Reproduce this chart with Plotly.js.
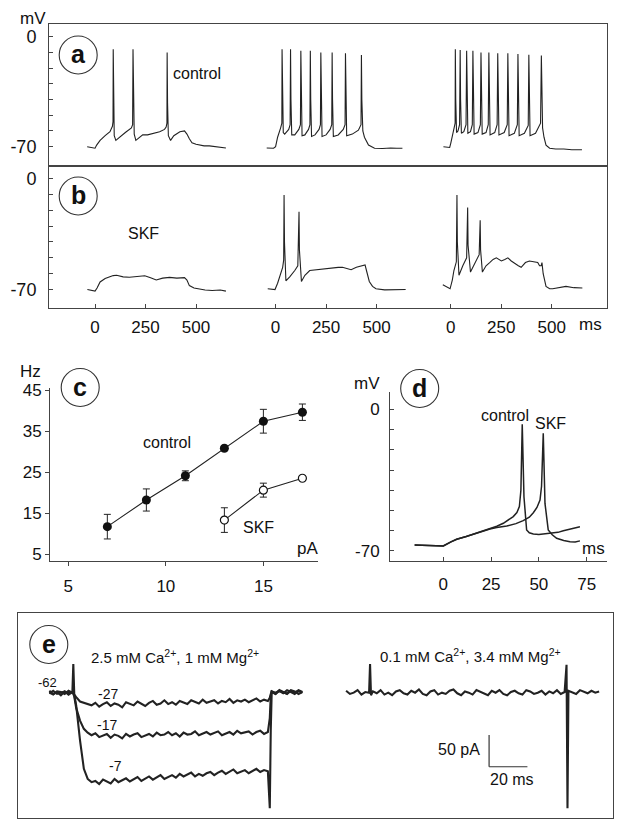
<!DOCTYPE html>
<html><head><meta charset="utf-8">
<script src="https://cdn.plot.ly/plotly-3.0.1.min.js"></script>
<style>html,body{margin:0;padding:0;background:#fff}#chart{width:624px;height:829px}</style>
</head><body><div id="chart"></div>
<script>
// ---------- DATA ----------
// Panel a (control): three sweeps, time (ms) and membrane potential (mV)
const aT1 = [-39,-10,0,8,25,50,74,86,89,90,92,95,103,120,150,180,186,188,190,194,202,220,236,260,295,320,344,352,356,357,359,363,374,390,403,420,443,455,467,480,500,516,540,566,600,648];
const aV1 = [-70,-70.5,-71,-69,-66,-63,-60.5,-57,-54,-8,-40,-63,-66,-64,-61,-58,-56,-8,-40,-62,-66,-64,-62.5,-62.5,-61.5,-60.5,-59,-57.5,-55,-10,-42,-63,-66,-63,-62,-60.5,-60,-62,-65,-67.5,-68.5,-68.8,-69.5,-69.5,-70.2,-70.8];
const aT2 = [-44,-10,0,10,25,31,32,34,38,45,65,72,74,76,80,95,115,123,125,127,131,145,163,170,172,174,178,195,215,222,224,226,230,250,270,278,280,282,286,310,335,344,346,348,352,380,410,423,425,427,432,440,460,490,530,570,600,628];
const aV2 = [-70.8,-71,-70,-64,-58,-55,-8,-40,-61,-62,-59,-56,-8,-40,-62.5,-62.5,-59,-56,-9,-40,-63,-62.5,-59,-56,-9,-40,-63.5,-62.5,-59,-56,-10,-40,-63.5,-62.5,-59,-56,-10,-40,-63.5,-62.5,-59,-56,-10.6,-40,-63,-62,-59.5,-56,-11.6,-40,-60,-64,-69,-71,-71.2,-70.8,-71,-71];
const aT3 = [-36,-5,0,8,17,22,23,25,29,36,44,47,49,53,65,76,79,81,85,98,107,110,112,116,135,147,150,152,156,175,186,189,191,195,218,230,233,235,239,265,280,283,285,289,315,330,333,335,339,365,384,387,389,393,420,440,445,449,451,455,462,472,490,520,560,600,650];
const aV3 = [-70,-70.5,-68,-62,-58,-55,-8,-40,-61,-60,-56,-8.5,-40,-61.5,-60.5,-56,-9,-40,-61.5,-60.5,-56,-9,-40,-62,-61,-56,-10,-40,-62,-61,-56,-10,-40,-62.5,-61,-56,-10.5,-40,-62.5,-61,-56,-10.5,-40,-63,-61.5,-56,-11,-40,-63,-61.5,-56.5,-11.5,-40,-63,-61.5,-57,-55,-12,-40,-58,-64,-69,-71,-71.5,-71.5,-72,-72];
// Panel b (SKF)
const bT1 = [-38,-8,0,10,25,50,74,90,107,125,139,170,205,225,246,275,303,335,369,405,443,455,467,490,516,545,580,620,648];
const bV1 = [-70,-70.5,-71,-69,-65.2,-63,-62,-61.2,-61,-61.8,-62,-62.2,-62,-61.8,-61.3,-62.5,-64,-62.8,-62.3,-62.8,-62.5,-64,-67.5,-69,-69.7,-70.3,-70.6,-70.3,-71];
const bT2 = [-39,-10,-3,10,21,35,40,42,44,51,70,95,110,116,118,128,145,169,200,230,251,280,310,331,355,374,400,425,443,450,464,480,497,540,600,644];
const bV2 = [-69.5,-70,-70,-66,-62,-56,-51.5,-10.5,-40,-64.5,-62,-58,-55,-21,-45,-64.9,-61,-58,-57.5,-57,-57,-56.5,-56,-56,-57,-57.5,-56,-55,-54.5,-58,-64.9,-68,-69.5,-70.2,-70,-70];
const bT3 = [-39,-20,-3,8,16,28,31,33,41,60,79,84,86,98,120,141,146,148,157,175,193,210,226,240,251,268,283,300,316,335,349,370,390,410,431,440,448,452,458,472,490,505,540,571,610,652];
const bV3 = [-67,-68.5,-69.5,-64,-58,-52.5,-10.5,-40,-61,-55,-50,-18.4,-42,-59,-53,-48,-26.4,-45,-59,-55,-53,-51,-50,-51,-52,-51,-50,-52,-53.5,-55,-56,-53,-52,-52.5,-53,-55,-55,-53,-60,-68,-69.5,-69.5,-68.5,-68,-68.8,-69];
const sweepTicks = [0,250,500];
const sweepTickText = ['0','250','500'];
const mvTicks = [0,-70];
const mvTickText = ['0','-70'];
const mvMinorTicks = [-10,-20,-30,-40,-50,-60];

// Panel c: firing frequency (Hz) vs injected current (pA)
const cCurrent = [7,9,11,13,15,17];
const cControl = [11.7,18.2,24.1,30.8,37.4,39.6];
const cControlErr = [3,2.7,1.2,0.5,2.9,2];
const cSkfCurrent = [13,15,17];
const cSkf = [13.3,20.6,23.5];
const cSkfErr = [3,1.7,0.5];
const cXTicks = [5,10,15];
const cYTicks = [5,15,25,35,45];

// Panel d: first spike, control vs SKF
const dCtrlT = [-15,-5,0,4,7,12,15.7,20,24.4,28,31.4,34,36.6,38.5,39.8,40.6,41.3,42.2,43.6,45,47.1,50,55.8,60,62.8,67,71.5];
const dCtrlV = [-67,-67.2,-67.5,-65.5,-64.2,-62.8,-61.6,-60.4,-59.1,-57.8,-56.3,-54.8,-53,-51,-48.1,-40,-7.4,-43.2,-59.6,-61,-61.6,-61.8,-61.4,-60.8,-60,-59,-58];
const dSkfT = [-15,-5,0,4,7,12,15.7,20,24.4,28,33.2,38,41.8,45,47.1,49,50.6,51.4,52.3,53.2,54.9,57,59.3,63,66.3,69,71.5];
const dSkfV = [-67,-67.2,-67.5,-65.5,-64.2,-62.8,-61.6,-60.4,-59.1,-58.4,-57.7,-56.5,-55,-53.3,-51.1,-48.5,-44.8,-38,-11.9,-46.5,-59.6,-62,-63.7,-64.8,-65.4,-65.5,-65];
const dXTicks = [0,25,50,75];

// Panel e: currents (pA) vs time (ms)
const eTime = [-12,-10,-8,-6,-4,-2,0,0.5,1,2,4,6,8,10,12,14,16,18,20,22,24,26,28,30,32,34,36,38,40,42,44,46,48,50,52,54,56,58,60,62,64,66,68,70,72,74,76,78,80,82,84,86,88,90,92,94,96,98,100,102,103,103.5,104,106,108,110,112,114,116,118,120];
const eM27 = [3,-2,1,-4,2,-1, 1,-1,-4, -7,-14,-16,-18,-20, -16,-22,-18,-15,-21,-17,-19,-23,-15,-18, -20,-14,-17,-21,-16,-13,-19,-17,-12,-18, -15,-19,-13,-16,-18,-12,-15,-17,-11,-16, -14,-12,-17,-13,-15,-10,-16,-12,-14,-11, -15,-12,-9,-14,-11,-13, -8,-2, 2,-2,4,1,-2,3,0,4,1];
const eM17 = [-1,3,-2,0,2,-3, 1,-2,-6, -24,-44,-57,-63,-67, -64,-70,-67,-65,-71,-66,-68,-72,-65,-69, -66,-64,-70,-67,-65,-69,-63,-67,-66,-62, -67,-64,-69,-63,-66,-65,-61,-67,-64,-62, -66,-63,-61,-67,-64,-62,-66,-60,-64,-63, -61,-66,-62,-60,-65,-62, -40,-5, 2,0,3,-1,4,1,-2,3,0];
const eM7 = [0,-3,2,1,-2,3, 0,45,-3, -20,-75,-120,-136,-141, -139,-144,-137,-140,-143,-136,-141,-138,-135,-140, -137,-133,-139,-135,-132,-137,-134,-130,-136,-133, -130,-134,-128,-132,-129,-126,-132,-128,-131,-127, -125,-130,-126,-123,-128,-124,-121,-127,-125,-122, -127,-123,-120,-125,-122,-124, -182,-60, 1,-2,3,0,-1,4,2,-2,1];
const eLowCa = [3,-2,0,4,-3,1, 0,45,-4, 2,-1,4,-3,0, -4,2,4,-1,-3,3,0,5,-2,-4, 2,4,-3,0,-2,3,5,-1,-4,2, 0,-3,4,1,-2,-4,3,0,4,-2, -4,1,3,-1,-3,4,2,-2,0,3, -3,2,-1,4,-2,1, 44,-182, 3,0,-2,4,1,-1,3,0,2];

// ---------- LAYOUT HELPERS ----------
const W = 624, H = 829;
const fx = p => p / W;
const fy = p => 1 - p / H;
const SEG2 = 894, SEG3 = 1761;   // placement of sweeps 2 and 3 on the shared time axis
const E_OFF = 154.8;             // placement of the low-Ca sweep in panel e
const FONT = 'Liberation Sans, Arial, Helvetica, sans-serif';
const INK = '#111', LINE = '#222', AX = '#444';
const shift = (arr, o) => arr.map(v => v + o);

function tr(x, y, xa, ya, w) {
  return {type:'scatter', mode:'lines', x:x, y:y, xaxis:xa, yaxis:ya,
          line:{color:LINE, width:w || 1.1}, hoverinfo:'skip'};
}

const data = [
  tr(aT1, aV1, 'x2', 'y'), tr(shift(aT2, SEG2), aV2, 'x2', 'y'), tr(shift(aT3, SEG3), aV3, 'x2', 'y'),
  tr(bT1, bV1, 'x', 'y2'), tr(shift(bT2, SEG2), bV2, 'x', 'y2'), tr(shift(bT3, SEG3), bV3, 'x', 'y2'),
  {type:'scatter', mode:'lines+markers', x:cCurrent, y:cControl, xaxis:'x3', yaxis:'y3',
   line:{color:LINE, width:1.1}, marker:{size:9, color:'#111'},
   error_y:{type:'data', array:cControlErr, visible:true, color:'#222', thickness:1, width:3.5}},
  {type:'scatter', mode:'lines+markers', x:cSkfCurrent, y:cSkf, xaxis:'x3', yaxis:'y3',
   line:{color:LINE, width:1.1}, marker:{size:8, color:'#fff', line:{color:'#111', width:1.2}},
   error_y:{type:'data', array:cSkfErr, visible:true, color:'#222', thickness:1, width:3.5}},
  tr(dCtrlT, dCtrlV, 'x4', 'y4', 1.5), tr(dSkfT, dSkfV, 'x4', 'y4', 1.5),
  tr(eTime, eM27, 'x5', 'y5', 2.1), tr(eTime, eM17, 'x5', 'y5', 2.1), tr(eTime, eM7, 'x5', 'y5', 2.1),
  tr(shift(eTime, E_OFF), eLowCa, 'x5', 'y5', 2.1)
];

const baseAx = {showgrid:false, zeroline:false, showline:true, linecolor:AX, linewidth:1,
                tickcolor:AX, tickwidth:1, tickfont:{family:FONT, size:17, color:INK}, fixedrange:true};
const ax = o => Object.assign({}, baseAx, o);
const mvMinor = {tickmode:'array', tickvals:mvMinorTicks, ticks:'inside', ticklen:4, tickcolor:AX, showgrid:false};

const abTickVals = [].concat(sweepTicks, shift(sweepTicks, SEG2), shift(sweepTicks, SEG3));
const abTickText = [].concat(sweepTickText, sweepTickText, sweepTickText);

const layout = {
  width: W, height: H, margin:{l:0, r:0, t:0, b:0},
  paper_bgcolor:'#fff', plot_bgcolor:'rgba(0,0,0,0)', showlegend:false,
  font:{family:FONT, color:INK},
  xaxis: ax({domain:[fx(49), fx(607)], anchor:'y2', range:[-228, 2535], mirror:true,
             tickmode:'array', tickvals:abTickVals, ticktext:abTickText, ticks:'inside', ticklen:4,
             ticklabelstandoff:4}),
  xaxis2: ax({domain:[fx(49), fx(607)], anchor:'y', matches:'x', mirror:true,
              showticklabels:false, ticks:''}),
  yaxis: ax({domain:[fy(166), fy(24)], anchor:'x2', range:[-82.3, 8.1], mirror:true,
             tickmode:'array', tickvals:mvTicks, ticktext:mvTickText, ticks:'inside', ticklen:4,
             minor:mvMinor, tickfont:{family:FONT, size:18, color:INK}, ticklabelstandoff:8}),
  yaxis2: ax({domain:[fy(308), fy(166)], anchor:'x', range:[-81.6, 7.8], mirror:true,
              tickmode:'array', tickvals:mvTicks, ticktext:mvTickText, ticks:'inside', ticklen:4,
              minor:mvMinor, tickfont:{family:FONT, size:18, color:INK}, ticklabelstandoff:8}),
  xaxis3: ax({domain:[fx(50), fx(318)], anchor:'y3', range:[4.06, 17.8],
              tickmode:'array', tickvals:cXTicks, ticks:'outside', ticklen:4, ticklabelstandoff:6}),
  yaxis3: ax({domain:[fy(560.7), fy(388)], anchor:'x3', range:[3.4, 45.5],
              tickmode:'array', tickvals:cYTicks, ticks:'outside', ticklen:4}),
  xaxis4: ax({domain:[fx(390), fx(606.7)], anchor:'y4', range:[-27.9, 85.5],
              tickmode:'array', tickvals:dXTicks, ticks:'inside', ticklen:4, ticklabelstandoff:8}),
  yaxis4: ax({domain:[fy(560.7), fy(391.7)], anchor:'x4', range:[-74.8, 8.7],
              tickmode:'array', tickvals:mvTicks, ticktext:mvTickText, ticks:'inside', ticklen:4,
              minor:mvMinor, ticklabelstandoff:6}),
  xaxis5: ax({domain:[fx(18.3), fx(613.3)], anchor:'y5', range:[-28.2, 282.2], mirror:true,
              showticklabels:false, ticks:''}),
  yaxis5: ax({domain:[fy(817.7), fy(612.7)], anchor:'x5', range:[-197, 126], mirror:true,
              showticklabels:false, ticks:''}),
  shapes: [],
  annotations: []
};

function txt(text, x, y, size, extra) {
  layout.annotations.push(Object.assign({text:text, x:fx(x), y:fy(y), xref:'paper', yref:'paper',
    showarrow:false, xanchor:'center', yanchor:'middle', font:{family:FONT, size:size, color:INK}}, extra || {}));
}
function badge(letter, cx, cy) {
  const r = 19;
  layout.shapes.push({type:'circle', xref:'paper', yref:'paper', x0:fx(cx - r), x1:fx(cx + r),
                      y0:fy(cy + r), y1:fy(cy - r), line:{color:'#333', width:1.1}, fillcolor:'rgba(0,0,0,0)'});
  txt('<b>' + letter + '</b>', cx, cy - 1, 25);
}

badge('a', 78.2, 55); badge('b', 78.2, 196); badge('c', 80.2, 387.5); badge('d', 419.7, 388.5); badge('e', 48.8, 644.5);

txt('mV', 33, 19, 17);
txt('control', 197, 73, 16);
txt('SKF', 143, 233, 16);
txt('ms', 590, 325, 17);

txt('Hz', 30, 372, 17);
txt('pA', 307, 548, 17);
txt('control', 167, 442, 16);
txt('SKF', 258, 527, 16);

txt('mV', 367, 384, 17);
txt('ms', 593, 548, 17);
txt('control', 505, 415, 16);
txt('SKF', 550, 423, 16);

txt('2.5 mM Ca<sup>2+</sup>, 1 mM Mg<sup>2+</sup>', 175, 656, 15);
txt('0.1 mM Ca<sup>2+</sup>, 3.4 mM Mg<sup>2+</sup>', 470, 655, 15);
txt('-62', 47.7, 682, 13);
txt('-27', 108.3, 694, 14);
txt('-17', 106.7, 725, 14);
txt('-7', 115, 766, 14);
txt('50 pA', 481.7, 749.3, 16, {xanchor:'right'});
txt('20 ms', 511.7, 779.3, 16);

// scale bar in panel e (50 pA, 20 ms) placed in the axis units
const SB_X = 217.4, SB_Y = -116.7;
layout.shapes.push({type:'line', xref:'x5', yref:'y5', x0:SB_X, x1:SB_X, y0:SB_Y, y1:SB_Y + 50, line:{color:'#333', width:1.2}});
layout.shapes.push({type:'line', xref:'x5', yref:'y5', x0:SB_X, x1:SB_X + 20, y0:SB_Y, y1:SB_Y, line:{color:'#333', width:1.2}});

Plotly.newPlot('chart', data, layout, {staticPlot:true, displayModeBar:false});
</script>
</body></html>
